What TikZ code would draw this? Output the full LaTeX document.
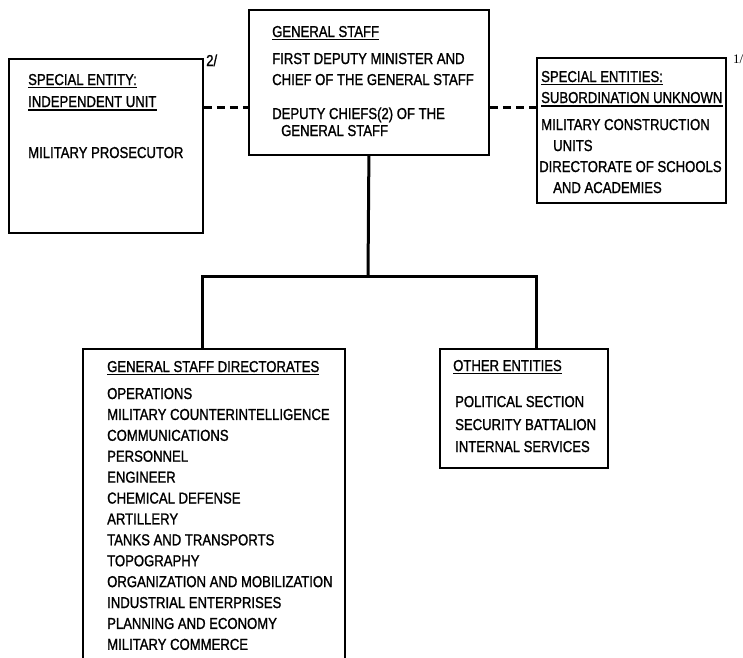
\documentclass[tikz,border=0pt]{standalone}
\usepackage{fontspec}
\setmainfont{Liberation Sans}[FakeStretch=0.83,FakeBold=1.2]
\newfontfamily\notefont{Liberation Serif}
\begin{document}
\begin{tikzpicture}[x=1pt,y=-1pt,
  box/.style={draw, line width=1.8pt, rectangle, inner sep=0pt, anchor=north west},
  txt/.style={inner sep=0pt, anchor=base west, font=\fontsize{15.8}{18}\selectfont},
  conn/.style={line width=3pt},
  dashconn/.style={line width=3pt, dash pattern=on 8pt off 5pt},
  ulline/.style={line width=1.2pt}]
\clip (0,0) rectangle (743,657);
\fill[white] (0,0) rectangle (743,657);

% boxes
\node[box, minimum width=194pt, minimum height=174pt] (lbox) at (8,58) {};
\node[box, minimum width=240pt, minimum height=145pt] (gs) at (248,9) {};
\node[box, minimum width=189pt, minimum height=145pt] (rbox) at (536,57) {};
\node[box, minimum width=262pt, minimum height=340pt] (dir) at (82,348) {};
\node[box, minimum width=168pt, minimum height=119pt] (oth) at (439,348) {};

% left box text
\node[txt] (l1) at (28,85) {SPECIAL ENTITY:};
\node[txt] (l2) at (28,107) {INDEPENDENT UNIT};
\node[txt] (l3) at (28,158) {MILITARY PROSECUTOR};
\draw[ulline] ([yshift=-2.5pt]l1.base west) -- ([yshift=-2.5pt]l1.base east);
\draw[ulline] ([yshift=-3pt]l2.base west) -- ([yshift=-3pt]l2.base east);
\node[txt, anchor=base west] (n2) at (206,66) {2/};

% general staff text
\node[txt] (g1) at (272,37) {GENERAL STAFF};
\draw[ulline] ([yshift=-2.5pt]g1.base west) -- ([yshift=-2.5pt]g1.base east);
\node[txt] (g2) at (272,64) {FIRST DEPUTY MINISTER AND};
\node[txt] (g3) at (272,85) {CHIEF OF THE GENERAL STAFF};
\node[txt] (g4) at (272,119) {DEPUTY CHIEFS(2) OF THE};
\node[txt] (g5) at (281,136) {GENERAL STAFF};

% right box text
\node[txt] (r1) at (541,82) {SPECIAL ENTITIES:};
\node[txt] (r2) at (541,103) {SUBORDINATION UNKNOWN};
\draw[ulline] ([yshift=-2.5pt]r1.base west) -- ([yshift=-2.5pt]r1.base east);
\draw[ulline] ([yshift=-3pt]r2.base west) -- ([yshift=-3pt]r2.base east);
\node[txt] (r3) at (541,130) {MILITARY CONSTRUCTION};
\node[txt] (r4) at (553,151) {UNITS};
\node[txt] (r5) at (539,172) {DIRECTORATE OF SCHOOLS};
\node[txt] (r6) at (553,193) {AND ACADEMIES};
\node[inner sep=0pt, anchor=base west, font=\notefont\fontsize{13}{15}\selectfont] (n1) at (733,63) {1/};

% directorates
\node[txt] (dh) at (107,372) {GENERAL STAFF DIRECTORATES};
\draw[ulline] ([yshift=-2.5pt]dh.base west) -- ([yshift=-2.5pt]dh.base east);
\foreach \t [count=\i from 0] in {OPERATIONS, MILITARY COUNTERINTELLIGENCE, COMMUNICATIONS, PERSONNEL, ENGINEER, CHEMICAL DEFENSE, ARTILLERY, TANKS AND TRANSPORTS, TOPOGRAPHY, ORGANIZATION AND MOBILIZATION, INDUSTRIAL ENTERPRISES, PLANNING AND ECONOMY, MILITARY COMMERCE}
  \node[txt] (d\i) at (107,{399+20.9*\i}) {\t};

% other entities
\node[txt] (oh) at (453,371) {OTHER ENTITIES};
\draw[ulline] ([yshift=-2.5pt]oh.base west) -- ([yshift=-2.5pt]oh.base east);
\node[txt] (o1) at (455,407) {POLITICAL SECTION};
\node[txt] (o2) at (455,430) {SECURITY BATTALION};
\node[txt] (o3) at (455,452) {INTERNAL SERVICES};

% connectors
\coordinate (dy) at (0,107);
\coordinate (hub) at (368,276);
\coordinate (jl) at (202,276);
\coordinate (jr) at (536,276);
\draw[dashconn] (lbox.east |- dy) -- (gs.west |- dy);
\draw[dashconn] (gs.east |- dy) -- (rbox.west |- dy);
\draw[conn] (gs.south) -- (hub);
\draw[conn, line cap=rect] (jl) -- (jr);
\draw[conn] (jl) -- (jl |- dir.north);
\draw[conn] (jr) -- (jr |- oth.north);
\end{tikzpicture}
\end{document}
